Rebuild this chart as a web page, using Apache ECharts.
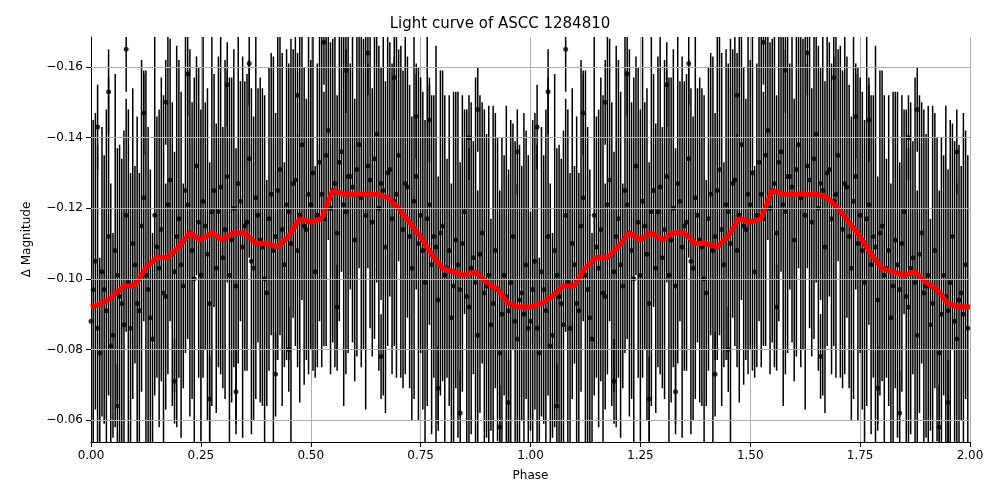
<!DOCTYPE html><html><head><meta charset="utf-8"><script src="https://cdn.jsdelivr.net/npm/echarts@6/dist/echarts.min.js"></script></head><body style="margin:0"><div id="c" style="width:1000px;height:500px"></div><script>
const curvePhase=[0,0.025,0.05,0.075,0.1,0.125,0.15,0.175,0.2,0.225,0.25,0.275,0.3,0.325,0.35,0.375,0.4,0.425,0.45,0.475,0.5,0.525,0.55,0.575,0.6,0.625,0.65,0.675,0.7,0.725,0.75,0.775,0.8,0.825,0.85,0.875,0.9,0.925,0.95,0.975,1.0];
const curveMag=[-0.092,-0.093,-0.095,-0.098,-0.098,-0.103,-0.106,-0.106,-0.109,-0.113,-0.111,-0.113,-0.111,-0.113,-0.113,-0.110,-0.110,-0.109,-0.112,-0.117,-0.116,-0.117,-0.125,-0.124,-0.124,-0.124,-0.124,-0.123,-0.120,-0.116,-0.112,-0.107,-0.103,-0.102,-0.101,-0.102,-0.099,-0.097,-0.093,-0.092,-0.092];
const obsMag=[-0.088,-0.105,-0.079,-0.097,-0.112,-0.084,-0.101,-0.093,-0.118,-0.086,
-0.104,-0.091,-0.123,-0.097,-0.083,-0.109,-0.114,-0.095,-0.128,-0.102,
-0.117,-0.098,-0.121,-0.108,-0.132,-0.101,-0.115,-0.093,-0.125,-0.119,
-0.106,-0.129,-0.111,-0.098,-0.122,-0.115,-0.134,-0.103,-0.118,-0.109,
-0.096,-0.124,-0.112,-0.131,-0.104,-0.119,-0.127,-0.108,-0.138,-0.114,
-0.121,-0.102,-0.133,-0.117,-0.142,-0.125,-0.113,-0.136,-0.119,-0.129,
-0.111,-0.138,-0.124,-0.132,-0.116,-0.141,-0.127,-0.109,-0.131,-0.122,
-0.135,-0.114,-0.126,-0.103,-0.129,-0.118,-0.099,-0.121,-0.112,-0.094,
-0.115,-0.103,-0.089,-0.111,-0.097,-0.119,-0.092,-0.106,-0.084,-0.113,
-0.098,-0.087,-0.108,-0.079,-0.101,-0.091,-0.112,-0.083,-0.096,-0.104];
const obsErr=[0.031,0.042,0.027,0.038,0.045,0.029,0.036,0.041,0.033,0.044,
0.028,0.039,0.035,0.046,0.030,0.037,0.043,0.032,0.040,0.034,
0.045,0.029,0.038,0.042,0.031,0.047,0.035,0.040,0.033,0.044,
0.037,0.030,0.046,0.039,0.034,0.041,0.028,0.043,0.036,0.045,
0.032,0.040,0.035,0.047,0.029,0.042,0.038,0.033,0.044,0.037,
0.041,0.030,0.045,0.036,0.031,0.043,0.039,0.034,0.046,0.032,
0.040,0.035,0.044,0.029,0.038,0.042,0.033,0.047,0.036,0.041,
0.030,0.045,0.037,0.043,0.032,0.039,0.046,0.034,0.040,0.035,
0.044,0.031,0.038,0.042,0.036,0.029,0.045,0.033,0.041,0.037,
0.043,0.030,0.039,0.046,0.034,0.040,0.032,0.044,0.036,0.038];
const obsMag2=[-0.097,-0.086,-0.102,-0.091,-0.081,-0.108,-0.095,-0.087,-0.099,-0.110,
-0.093,-0.115,-0.101,-0.089,-0.118,-0.103,-0.096,-0.121,-0.107,-0.112,
-0.104,-0.125,-0.113,-0.100,-0.116,-0.122,-0.107,-0.119,-0.103,-0.126,
-0.114,-0.101,-0.120,-0.127,-0.109,-0.116,-0.105,-0.123,-0.111,-0.100,
-0.117,-0.108,-0.125,-0.114,-0.121,-0.110,-0.128,-0.118,-0.115,-0.124,
-0.130,-0.118,-0.124,-0.135,-0.120,-0.127,-0.133,-0.121,-0.129,-0.126,
-0.131,-0.123,-0.118,-0.128,-0.134,-0.120,-0.125,-0.130,-0.117,-0.124,
-0.119,-0.127,-0.112,-0.122,-0.110,-0.108,-0.117,-0.104,-0.109,-0.113,
-0.101,-0.108,-0.098,-0.104,-0.110,-0.095,-0.103,-0.099,-0.107,-0.096,
-0.101,-0.093,-0.097,-0.090,-0.095,-0.099,-0.088,-0.094,-0.090,-0.086];
const obsErr2=[0.048,0.052,0.041,0.057,0.046,0.050,0.043,0.055,0.049,0.044,
0.053,0.047,0.058,0.042,0.051,0.045,0.056,0.048,0.043,0.054,
0.049,0.046,0.052,0.057,0.044,0.050,0.047,0.055,0.041,0.053,
0.048,0.056,0.045,0.051,0.054,0.042,0.049,0.057,0.046,0.052,
0.043,0.055,0.048,0.050,0.044,0.058,0.047,0.053,0.045,0.051,
0.056,0.043,0.049,0.054,0.047,0.052,0.045,0.057,0.050,0.044,
0.053,0.048,0.055,0.042,0.051,0.046,0.058,0.049,0.044,0.052,
0.047,0.054,0.043,0.056,0.050,0.045,0.053,0.048,0.057,0.046,
0.051,0.044,0.055,0.049,0.042,0.053,0.047,0.058,0.045,0.052,
0.048,0.056,0.043,0.050,0.054,0.046,0.051,0.044,0.057,0.049];
const outPhase=[0.015,0.04,0.08,0.12,0.17,0.22,0.27,0.31,0.36,0.42,0.47,0.53,0.58,0.63,0.69,0.74,0.79,0.84,0.88,0.93,0.97,0.06,0.19,0.33,0.45,0.56,0.66,0.77,0.86,0.95];
const outMag=[-0.143,-0.153,-0.165,-0.147,-0.150,-0.158,-0.066,-0.155,-0.161,-0.073,-0.152,-0.167,-0.159,-0.164,-0.157,-0.146,-0.069,-0.062,-0.148,-0.058,-0.136,-0.064,-0.071,-0.068,-0.080,-0.092,-0.078,-0.145,-0.140,-0.065];
const xTicks=[0,0.25,0.5,0.75,1,1.25,1.5,1.75,2];
const yTicks=[-0.16,-0.14,-0.12,-0.10,-0.08,-0.06];
const pts=[],outs=[],curve=[];
for(let k=0;k<2;k++){
 for(let i=0;i<obsMag.length;i++)pts.push([i/100+k,obsMag[i],obsErr[i]]);
 for(let i=0;i<obsMag2.length;i++)pts.push([i/100+0.005+k,obsMag2[i],obsErr2[i]]);
 for(let i=0;i<outPhase.length;i++)outs.push([outPhase[i]+k,outMag[i],0.012]);
 for(let i=0;i<curvePhase.length;i++)if(!(k==1&&i==0))curve.push([curvePhase[i]+k,curveMag[i]]);
}
const all=pts.concat(outs);
const ch=echarts.init(document.getElementById('c'));
ch.setOption({animation:false,
title:{text:'Light curve of ASCC 1284810',left:'center',top:12,textStyle:{fontFamily:'DejaVu Sans',fontSize:15,fontWeight:'normal',color:'#000'}},
grid:{left:91,right:30,top:37,bottom:58},
xAxis:{type:'value',min:0,max:2,interval:0.25,name:'Phase',nameLocation:'middle',nameGap:28,nameTextStyle:{fontFamily:'DejaVu Sans',fontSize:12,color:'#000'},
 axisLine:{lineStyle:{color:'#000'}},axisTick:{lineStyle:{color:'#000'}},axisLabel:{color:'#000',fontFamily:'DejaVu Sans',fontSize:12,formatter:v=>v.toFixed(2)},
 splitLine:{show:true,lineStyle:{color:'#b0b0b0'}}},
yAxis:{type:'value',inverse:true,min:-0.1685,max:-0.0538,name:'Δ Magnitude',nameLocation:'middle',nameGap:58,nameTextStyle:{fontFamily:'DejaVu Sans',fontSize:12,color:'#000'},
 axisLine:{show:true,lineStyle:{color:'#000'}},axisTick:{show:true,customValues:yTicks,lineStyle:{color:'#000'}},
 axisLabel:{customValues:yTicks,color:'#000',fontFamily:'DejaVu Sans',fontSize:12,formatter:v=>'\u2212'+Math.abs(v).toFixed(2)},
 splitLine:{show:false}},
series:[
{type:'line',data:yTicks.map(v=>[0,v]),symbol:'none',lineStyle:{opacity:0},silent:true,z:1,
 markLine:{silent:true,symbol:'none',label:{show:false},lineStyle:{color:'#b0b0b0',type:'solid',width:1},data:yTicks.map(v=>({yAxis:v}))}},
{type:'custom',data:all,z:2,clip:true,renderItem:(p,api)=>{const x=api.value(0),y=api.value(1),e=api.value(2);const a=api.coord([x,y-e]),b=api.coord([x,y+e]);
 return {type:'line',shape:{x1:a[0],y1:a[1],x2:b[0],y2:b[1]},style:{stroke:'#000',lineWidth:1.5}};}},
{type:'scatter',data:all.map(d=>[d[0],d[1]]),symbolSize:5,itemStyle:{color:'#000'},z:3,clip:true},
{type:'line',data:curve,symbol:'none',lineStyle:{color:'#ff0000',width:5},z:4}
]});
</script></body></html>
